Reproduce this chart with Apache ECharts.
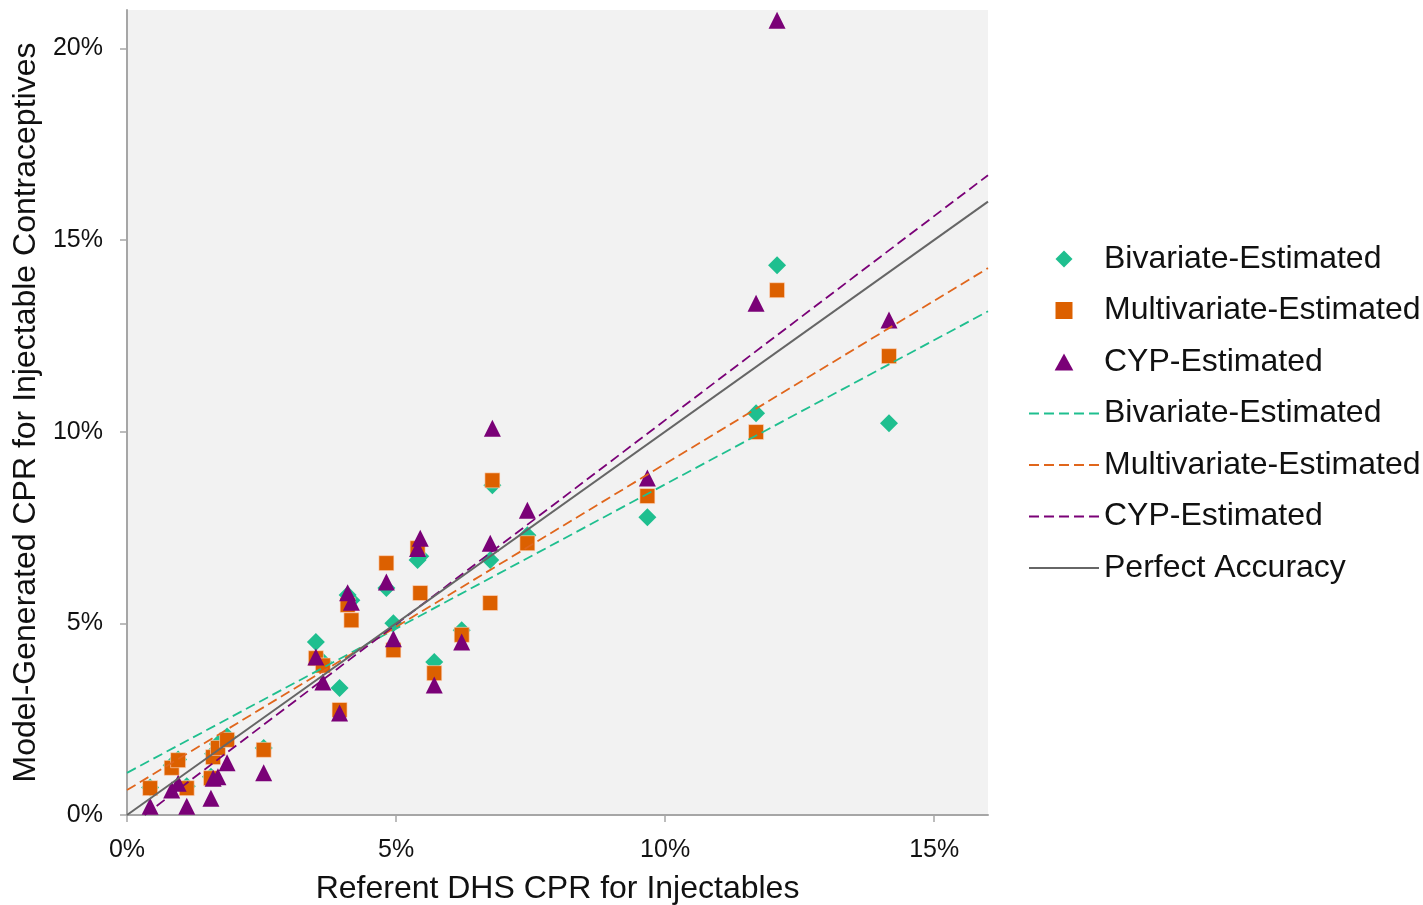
<!DOCTYPE html>
<html>
<head>
<meta charset="utf-8">
<script src="https://cdn.jsdelivr.net/npm/echarts@6/dist/echarts.min.js"></script>
<style>html,body{margin:0;padding:0;background:#fff}#c{width:1423px;height:905px}</style>
</head>
<body>
<div id="c"></div>
<script>
// Referent DHS CPR (x, %) for each country
const dhs = [0.43,0.83,0.95,1.11,1.56,1.60,1.69,1.86,2.54,3.51,3.64,3.95,4.10,4.17,4.82,4.95,5.40,5.45,5.71,6.22,6.75,6.79,7.44,9.67,11.69,12.08,14.16];
const bivariate = [0.72,1.30,1.45,0.75,1.00,1.60,1.85,2.05,1.75,4.51,4.00,3.31,5.74,5.60,5.92,5.00,6.65,6.75,3.99,4.82,6.65,8.60,7.30,7.77,10.48,14.34,10.22];
const multivariate = [0.70,1.23,1.43,0.70,0.96,1.51,1.75,1.96,1.70,4.09,3.90,2.74,5.48,5.08,6.57,4.30,6.96,5.79,3.70,4.70,5.53,8.73,7.09,8.32,9.99,13.69,11.97];
const cyp = [0.23,0.65,0.83,0.23,0.44,0.96,1.00,1.36,1.10,4.12,3.47,2.66,5.80,5.55,6.08,4.60,6.95,7.22,3.39,4.51,7.09,10.09,7.95,8.79,13.35,20.73,12.91];
// Linear trend lines: intercept and slope
const trendNames = ['Bivariate-Estimated','Multivariate-Estimated','CYP-Estimated','Perfect Accuracy'];
const trendIntercept = [1.10,0.65,-0.35,0];
const trendSlope = [0.7525,0.851,1.065,1];
const xTicks = [0,5,10,15];
const yTicks = [0,5,10,15,20];
const xMax = 16, yMax = 21;

const colors = {biv:'#1fbf8f', mult:'#dc6000', cyp:'#7a0177'};
const lineColors = ['#1fbf8f','#e0661c','#7a0177','#666666'];

function pts(ys){return dhs.map((x,i)=>[x,ys[i]]);}
function trend(i){
  const a=trendIntercept[i], b=trendSlope[i];
  let x0=0; if(a<0) x0=-a/b;
  return [[x0,a+b*x0],[xMax,a+b*xMax]];
}
const font='"Liberation Sans", Arial, sans-serif';
const series=[
  {name:'Bivariate-Estimated',type:'scatter',symbol:'diamond',symbolSize:18,itemStyle:{color:colors.biv,opacity:1},data:pts(bivariate),z:2},
  {name:'Multivariate-Estimated',type:'scatter',symbol:'rect',symbolSize:15,itemStyle:{color:colors.mult,opacity:1,borderColor:'rgba(255,220,200,0.6)',borderWidth:1},data:pts(multivariate),z:3},
  {name:'CYP-Estimated',type:'scatter',symbol:'triangle',symbolSize:17,itemStyle:{color:colors.cyp,opacity:1},data:pts(cyp),z:4}
];
const lineNames=[];
trendNames.forEach((n,i)=>{
  const nm=i<3?n+' ':n; lineNames.push(nm);
  series.push({name:nm,type:'line',symbol:'none',silent:true,
    lineStyle:{color:lineColors[i],width:i<3?1.8:2,type:i<3?[10,5]:'solid'},
    itemStyle:{color:lineColors[i]},
    data:trend(i),z:5});
});
const legendText={fontSize:32,color:'#111',lineHeight:36,fontFamily:font};
const chart=echarts.init(document.getElementById('c'),null,{renderer:'canvas'});
chart.setOption({
  animation:false,
  backgroundColor:'#ffffff',
  textStyle:{fontFamily:font},
  grid:{left:127,top:10,width:861,height:805,show:true,backgroundColor:'#f2f2f2',borderWidth:0,outerBoundsMode:'none',containLabel:false},
  xAxis:{type:'value',min:0,max:xMax,interval:5,
    name:'Referent DHS CPR for Injectables',nameLocation:'middle',nameGap:58,
    nameTextStyle:{fontSize:32,color:'#111',fontFamily:font},
    axisLine:{show:true,lineStyle:{color:'#a6a6a6',width:2}},
    axisTick:{show:true,length:7,inside:false,lineStyle:{color:'#a6a6a6',width:1.5},customValues:xTicks},
    axisLabel:{fontSize:25,color:'#111',margin:23,fontFamily:font,customValues:xTicks,formatter:v=>v+'%'},
    splitLine:{show:false}},
  yAxis:{type:'value',min:0,max:yMax,interval:5,
    name:'Model-Generated CPR for Injectable Contraceptives',nameLocation:'middle',nameGap:84,
    nameTextStyle:{fontSize:32,color:'#111',fontFamily:font},
    axisLine:{show:true,lineStyle:{color:'#a6a6a6',width:2}},
    axisTick:{show:true,length:7,lineStyle:{color:'#a6a6a6',width:1.5},customValues:yTicks},
    axisLabel:{fontSize:25,color:'#111',margin:24,fontFamily:font,customValues:yTicks,formatter:v=>v+'%'},
    splitLine:{show:false}},
  legend:{orient:'vertical',left:1028,top:241,padding:0,itemWidth:70,itemHeight:17,itemGap:15.5,
    selectedMode:false,symbolKeepAspect:true,
    formatter:n=>n.trim(),
    textStyle:legendText,
    data:[
      {name:'Bivariate-Estimated',icon:'path://M0,-1L1,0L0,1L-1,0Z'},
      {name:'Multivariate-Estimated',icon:'path://M0,0L1,0L1,1L0,1Z',itemStyle:{borderWidth:0}},
      {name:'CYP-Estimated',icon:'path://M0,-1L1.1,1L-1.1,1Z'}
    ].concat(lineNames.map(n=>({name:n,itemStyle:{opacity:0}})))},
  series:series
});
</script>
</body>
</html>
